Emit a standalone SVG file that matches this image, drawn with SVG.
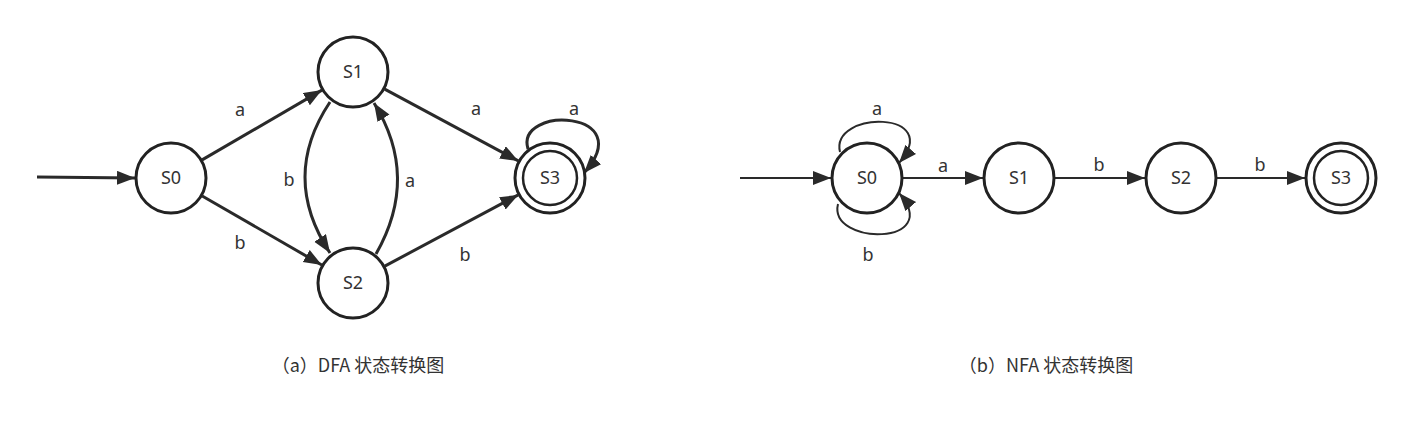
<svg xmlns="http://www.w3.org/2000/svg" width="1413" height="432" viewBox="0 0 1413 432">
<style>
.st{fill:#fff;stroke:#222;stroke-width:3}
.in{fill:none;stroke:#222;stroke-width:2.5}
.e{fill:none;stroke:#2a2a2a;stroke-width:3}
.e2{fill:none;stroke:#2a2a2a;stroke-width:2}
text{font-family:"Noto Sans","Noto Sans CJK SC",sans-serif;fill:#333;text-anchor:middle}
.n{font-size:18px}
.l{font-size:18px}
.cap{font-size:18px;font-family:"Noto Sans CJK SC","Noto Sans",sans-serif}
</style>
<defs>
<marker id="ah" markerUnits="userSpaceOnUse" markerWidth="20" markerHeight="16" refX="18" refY="7" orient="auto">
<path d="M0,0 L18,7 L0,14 z" fill="#2a2a2a"/>
</marker>
</defs>
<rect width="1413" height="432" fill="#fff"/>

<g id="connectors">
<!-- DFA -->
<path class="e" d="M37,177 L135,178" marker-end="url(#ah)"/>
<path class="e" d="M202.1,159.9 L321.9,90.1" marker-end="url(#ah)"/>
<path class="e" d="M202.2,196 L321.8,265" marker-end="url(#ah)"/>
<path class="e" d="M330,102 Q280,177 330,253" marker-end="url(#ah)"/>
<path class="e" d="M376,254 Q420,177 374,103" marker-end="url(#ah)"/>
<path class="e" d="M384.7,89.1 L518.3,160.9" marker-end="url(#ah)"/>
<path class="e" d="M384.8,266.1 L518.2,194.9" marker-end="url(#ah)"/>
<path class="e" d="M528,149 C515,105 640,110 584,173" marker-end="url(#ah)"/>
<!-- NFA -->
<path class="e2" d="M740,178 L831,178" marker-end="url(#ah)"/>
<path class="e2" d="M903,178 L983,178" marker-end="url(#ah)"/>
<path class="e2" d="M1055,178 L1145,178" marker-end="url(#ah)"/>
<path class="e2" d="M1217,178 L1305,178" marker-end="url(#ah)"/>
<path class="e2" d="M840,152 C830,110 945,110 899,163" marker-end="url(#ah)"/>
<path class="e2" d="M838,204 C828,246 945,246 899,193" marker-end="url(#ah)"/>

<text class="l" x="240" y="116">a</text>
<text class="l" x="240" y="249">b</text>
<text class="l" x="289" y="186">b</text>
<text class="l" x="410" y="187">a</text>
<text class="l" x="476" y="115">a</text>
<text class="l" x="465" y="261">b</text>
<text class="l" x="574" y="115">a</text>
<text class="l" x="877" y="115">a</text>
<text class="l" x="943" y="172">a</text>
<text class="l" x="868" y="261">b</text>
<text class="l" x="1099" y="171">b</text>
<text class="l" x="1260" y="171">b</text>
</g>

<g id="dfa-s0"><circle class="st" cx="171" cy="178" r="35"/><text class="n" x="171" y="184">S0</text></g>
<g id="dfa-s1"><circle class="st" cx="353" cy="72" r="35"/><text class="n" x="353" y="78">S1</text></g>
<g id="dfa-s2"><circle class="st" cx="353" cy="283" r="35"/><text class="n" x="353" y="289">S2</text></g>
<g id="dfa-s3"><circle class="st" cx="550" cy="178" r="35"/><circle class="in" cx="550" cy="178" r="27"/><text class="n" x="550" y="184">S3</text></g>

<g id="nfa-s0"><circle class="st" cx="867" cy="178" r="35"/><text class="n" x="867" y="184">S0</text></g>
<g id="nfa-s1"><circle class="st" cx="1019" cy="178" r="35"/><text class="n" x="1019" y="184">S1</text></g>
<g id="nfa-s2"><circle class="st" cx="1181" cy="178" r="35"/><text class="n" x="1181" y="184">S2</text></g>
<g id="nfa-s3"><circle class="st" cx="1341" cy="178" r="35"/><circle class="in" cx="1341" cy="178" r="27"/><text class="n" x="1341" y="184">S3</text></g>

<g id="captions">
<text class="cap" x="358" y="372">（a）DFA 状态转换图</text>
<text class="cap" x="1046" y="372">（b）NFA 状态转换图</text>
</g>
</svg>
